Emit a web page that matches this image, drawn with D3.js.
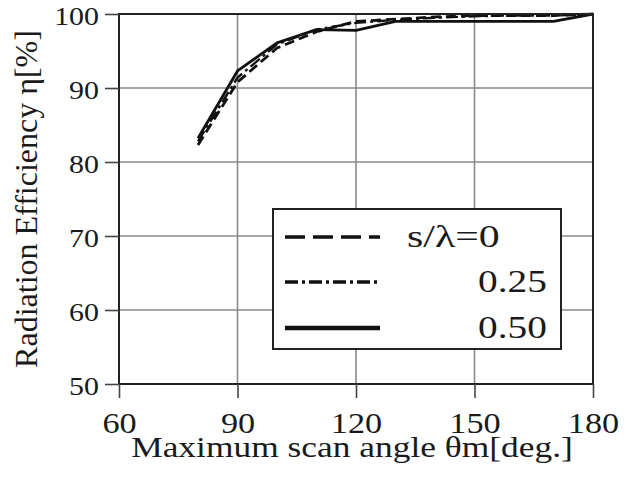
<!DOCTYPE html>
<html>
<head>
<meta charset="utf-8">
<script src="https://cdn.jsdelivr.net/npm/d3@7"></script>
<style>
  body { margin: 0; background: #fff; }
  svg { display: block; }
  text { font-family: "Liberation Serif", "Times New Roman", serif; fill: #1a1a1a; }
</style>
</head>
<body>
<div id="app"></div>
<script>
// scan angle (deg) and efficiency (%) per spacing s/lambda
const angles = [80, 90, 100, 110, 120, 130, 140, 150, 160, 170, 180];
const eff000 = [82.3, 90.8, 95.4, 97.6, 99.0, 99.3, 99.6, 99.8, 99.8, 99.8, 100];
const eff025 = [82.8, 91.4, 95.9, 97.9, 98.8, 99.2, 99.5, 99.7, 99.8, 99.8, 100];
const eff050 = [83.2, 92.3, 96.1, 97.9, 97.8, 99.0, 99.0, 99.0, 99.0, 99.0, 100];
const seriesLabels = ['s/λ=0', '0.25', '0.50'];
const xTicks = [60, 90, 120, 150, 180];
const yTicks = [50, 60, 70, 80, 90, 100];

const conf = {
  width: 628,
  height: 478,
  margin: { top: 14, right: 35, bottom: 94, left: 119 }
};

const styles = [
  { dash: '10,5', width: 2.8 },
  { dash: '12,4,3,4', width: 2.4 },
  { dash: null, width: 2.8 }
];

// the scanned figure is stretched sideways, so widen glyphs to match
function widen(sel, k) {
  sel.each(function () {
    const len = this.getComputedTextLength();
    d3.select(this).attr('textLength', len * k).attr('lengthAdjust', 'spacingAndGlyphs');
  });
}

function main() {
  const svg = d3.select('#app').append('svg')
    .attr('width', conf.width)
    .attr('height', conf.height);

  const m = conf.margin;
  const x = d3.scaleLinear().domain([60, 180]).range([m.left, conf.width - m.right]);
  const y = d3.scaleLinear().domain([50, 100]).range([conf.height - m.bottom, m.top]);

  // grid
  const grid = svg.append('g').attr('stroke', '#8a8a8a').attr('stroke-width', 1.6);
  grid.selectAll('.gx').data(xTicks.slice(1, -1)).enter().append('line')
    .attr('x1', d => x(d)).attr('x2', d => x(d))
    .attr('y1', y(50)).attr('y2', y(100));
  grid.selectAll('.gy').data(yTicks.slice(1, -1)).enter().append('line')
    .attr('x1', x(60)).attr('x2', x(180))
    .attr('y1', d => y(d)).attr('y2', d => y(d));

  // curves
  const line = d3.line().x(d => x(d[0])).y(d => y(d[1]));
  const series = [eff000, eff025, eff050];
  series.forEach((s, i) => {
    svg.append('path')
      .datum(angles.map((a, j) => [a, s[j]]))
      .attr('d', line)
      .attr('fill', 'none')
      .attr('stroke', '#111')
      .attr('stroke-width', styles[i].width)
      .attr('stroke-dasharray', styles[i].dash)
      .attr('stroke-linejoin', 'round');
  });

  // frame
  svg.append('rect')
    .attr('x', x(60)).attr('y', y(100))
    .attr('width', x(180) - x(60)).attr('height', y(50) - y(100))
    .attr('fill', 'none').attr('stroke', '#222').attr('stroke-width', 2);

  // x axis
  const xAxis = svg.append('g').attr('transform', `translate(0,${y(50)})`);
  xAxis.call(d3.axisBottom(x).tickValues(d3.range(60, 181, 10)).tickSize(9).tickFormat(''));
  xAxis.call(d3.axisBottom(x).tickValues(xTicks).tickSize(14).tickPadding(14));
  xAxis.select('.domain').remove();
  xAxis.selectAll('line').attr('stroke', '#444').attr('stroke-width', 1.6);
  xAxis.selectAll('text').attr('font-size', 29).attr('fill', '#1a1a1a').call(widen, 1.18);

  // y axis
  const yAxis = svg.append('g').attr('transform', `translate(${x(60)},0)`);
  yAxis.call(d3.axisLeft(y).tickValues(d3.range(50, 101, 2)).tickSize(8).tickFormat(''));
  yAxis.call(d3.axisLeft(y).tickValues(yTicks).tickSize(14).tickPadding(6));
  yAxis.select('.domain').remove();
  yAxis.selectAll('line').attr('stroke', '#444').attr('stroke-width', 1.6);
  yAxis.selectAll('text').attr('font-size', 26).attr('dy', '0.42em').attr('fill', '#1a1a1a').call(widen, 1.15);

  // axis titles
  svg.append('text')
    .attr('x', 352).attr('y', 457)
    .attr('text-anchor', 'middle').attr('font-size', 30)
    .text('Maximum scan angle θm[deg.]')
    .call(widen, 1.18);
  svg.append('text')
    .attr('transform', `translate(37,${(y(50) + y(100)) / 2}) rotate(-90)`)
    .attr('text-anchor', 'middle').attr('font-size', 32)
    .text('Radiation Efficiency η[%]');

  // legend
  const lg = svg.append('g');
  lg.append('rect')
    .attr('x', 273).attr('y', 209).attr('width', 288).attr('height', 140)
    .attr('fill', '#fff').attr('stroke', '#222').attr('stroke-width', 2);
  const rows = [237, 282, 328];
  seriesLabels.forEach((lab, i) => {
    lg.append('line')
      .attr('x1', 285).attr('x2', 380)
      .attr('y1', rows[i]).attr('y2', rows[i])
      .attr('stroke', '#111')
      .attr('stroke-width', i === 2 ? 4.5 : 3.5)
      .attr('stroke-dasharray', i === 0 ? '20,8' : i === 1 ? '13,4,3,4' : null);
    lg.append('text')
      .attr('x', i === 0 ? 407 : 547)
      .attr('y', rows[i] + 10)
      .attr('text-anchor', i === 0 ? 'start' : 'end')
      .attr('font-size', 31)
      .text(lab)
      .call(widen, i === 0 ? 1.35 : 1.27);
  });
}

main();
</script>
</body>
</html>
